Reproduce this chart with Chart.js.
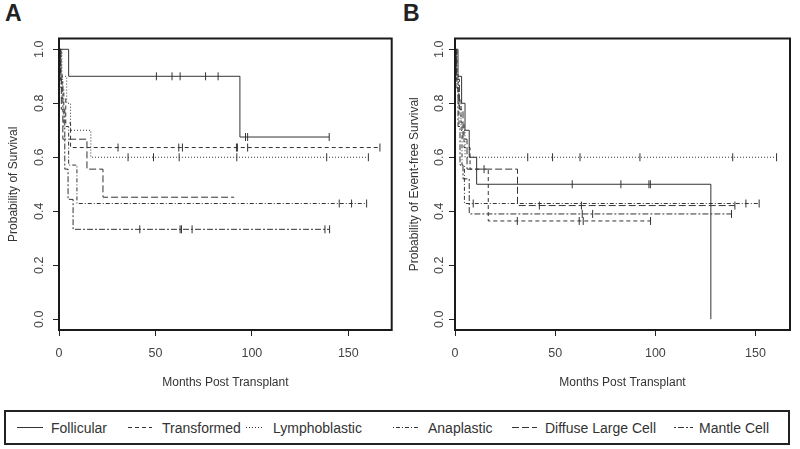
<!DOCTYPE html>
<html><head><meta charset="utf-8">
<script src="https://cdn.jsdelivr.net/npm/chart.js@4.4.1/dist/chart.umd.min.js"></script>
<style>
  body { margin:0; background:#fff; width:800px; height:449px; overflow:hidden; position:relative; font-family:"Liberation Sans", Arial, sans-serif; }
  .panel { position:absolute; top:0; }
  .tag { position:absolute; top:0; font:bold 23px "Liberation Sans Narrow", "Liberation Sans", Arial, sans-serif; color:#222; line-height:26px; }
  #legend { position:absolute; left:4px; top:410px; width:786px; height:35px; border:2px solid #222; box-sizing:border-box; }
  .item { position:absolute; top:0; height:31px; display:flex; align-items:center; font-size:14px; color:#333; white-space:nowrap; }
  .swatch { position:absolute; top:15px; height:1px; }
</style>
</head><body>
<div class="tag" style="left:5px">A</div>
<div class="tag" style="left:403px">B</div>
<canvas id="chartA" class="panel" style="left:0" width="400" height="400"></canvas>
<canvas id="chartB" class="panel" style="left:400px" width="400" height="400"></canvas>
<div id="legend"></div>
<script>
// Kaplan-Meier, duas figuras (A: sobrevida global, B: sobrevida livre de evento)
const X_TICKS = [0, 50, 100, 150];
const Y_TICKS = [0, 0.2, 0.4, 0.6, 0.8, 1.0];
const SERIES = ['Follicular', 'Transformed', 'Lymphoblastic', 'Anaplastic', 'Diffuse Large Cell', 'Mantle Cell'];
const DASHES = [[], [4, 3], [1, 2], [1, 2, 4, 2], [7, 3], [2, 2, 6, 2]];
const INK = '#333';

// painel A — [mês, probabilidade]; o último ponto marca o fim da curva
const A_FOL = [[0, 1], [5, 0.9], [93.8, 0.675], [140.1, 0.675]];
const A_TRA = [[0, 1], [0.8, 0.909], [1.6, 0.818], [3.5, 0.727], [6, 0.636], [166.4, 0.636]];
const A_LYM = [[0, 1], [1.5, 0.9], [4, 0.8], [6, 0.7], [16.5, 0.6], [160.4, 0.6]];
const A_ANA = [[0, 1], [1, 0.857], [2.5, 0.714], [5, 0.571], [9.3, 0.4286], [159.5, 0.4286]];
const A_DLC = [[0, 1], [0.6, 0.889], [1.2, 0.778], [2, 0.667], [14.5, 0.556], [22.8, 0.452], [90.8, 0.452]];
const A_MAN = [[0, 1], [1, 0.889], [2, 0.778], [3, 0.556], [4.7, 0.444], [7.3, 0.333], [140.3, 0.333]];
// censuras (meses)
const A_FOL_C = [50.5, 58.6, 62.8, 76, 82.5, 96.7, 97.8, 140.1];
const A_TRA_C = [30.6, 62.1, 64, 92, 92.5, 97.8, 166.4];
const A_LYM_C = [35.8, 49, 62.3, 92.2, 138.8, 160.4];
const A_ANA_C = [145.3, 151.7, 159.5];
const A_DLC_C = [];
const A_MAN_C = [41.9, 62.8, 63.5, 69, 137.9, 140.3];

// painel B
const B_FOL = [[0, 1], [1.5, 0.9], [3.3, 0.8], [5, 0.7], [7.1, 0.6], [10.8, 0.5], [127.7, 0]];
const B_TRA = [[0, 1], [0.5, 0.909], [1.5, 0.818], [3, 0.727], [4.5, 0.636], [7.5, 0.556], [16.6, 0.364], [97.6, 0.364]];
const B_LYM = [[0, 1], [0.8, 0.9], [1.8, 0.8], [3, 0.7], [5, 0.6], [160.5, 0.6]];
const B_ANA = [[0, 1], [1, 0.857], [2, 0.714], [3.5, 0.571], [4.7, 0.4286], [151.8, 0.4286]];
const B_DLC = [[0, 1], [0.7, 0.889], [2.2, 0.778], [4, 0.667], [6, 0.556], [31.2, 0.421], [139.7, 0.421]];
const B_MAN = [[0, 1], [0.5, 0.857], [1.5, 0.714], [2.5, 0.571], [4, 0.52], [7.1, 0.39], [138, 0.39]];
const B_FOL_C = [58.5, 82.8, 96.8, 97.5];
const B_TRA_C = [14.5, 31.1, 62, 64, 97.6];
const B_LYM_C = [36.3, 48.7, 62.4, 92.3, 138.6, 160.5];
const B_ANA_C = [9.1, 145.2, 151.8];
const B_DLC_C = [42.1, 63.1, 139.7];
const B_MAN_C = [63.5, 68.7, 138];

Chart.defaults.font.family = '"Liberation Sans", Arial, sans-serif';
Chart.defaults.color = '#444';

function survAt(steps, t) {
  let s = steps[0][1];
  for (const [x, y] of steps) { if (x <= t) s = y; }
  return s;
}

function datasets(curves, cens) {
  const out = [];
  curves.forEach((c, i) => {
    out.push({ data: c.map(([x, y]) => ({ x, y })), stepped: true, borderColor: INK, borderWidth: 1,
      borderDash: DASHES[i], pointRadius: 0, fill: false });
    out.push({ data: cens[i].map(t => ({ x: t, y: survAt(c, t) })), showLine: false, pointStyle: 'line',
      rotation: 90, pointRadius: 4, borderColor: INK, borderWidth: 1 });
  });
  return out;
}

// caixa em volta + rótulos do eixo y girados (estilo R)
const rBox = {
  id: 'rBox',
  afterDraw(chart, args, opts) {
    const { ctx, chartArea: a, scales: { y } } = chart;
    ctx.save();
    ctx.strokeStyle = '#1a1a1a'; ctx.lineWidth = 2;
    ctx.strokeRect(a.left, a.top, a.right - a.left, a.bottom - a.top);
    ctx.font = '12.5px "Liberation Sans", Arial, sans-serif';
    ctx.fillStyle = '#444'; ctx.textAlign = 'center'; ctx.textBaseline = 'middle';
    for (const t of y.ticks) {
      ctx.save();
      ctx.translate(a.left - opts.gap, y.getPixelForValue(t.value));
      ctx.rotate(-Math.PI / 2);
      ctx.fillText(t.value.toFixed(1), 0, 0);
      ctx.restore();
    }
    ctx.restore();
  }
};

function desenha(id, curves, cens, xMax, yWidth, padRight, yTitle, titlePad, gap) {
  return new Chart(document.getElementById(id), {
    type: 'line',
    data: { datasets: datasets(curves, cens) },
    plugins: [rBox],
    options: {
      responsive: false, animation: false, events: [],
      layout: { padding: { left: 0, right: padRight, top: 38.5, bottom: 0 } },
      plugins: { legend: { display: false }, tooltip: { enabled: false }, rBox: { gap } },
      scales: {
        x: {
          type: 'linear', min: 0, max: xMax,
          afterBuildTicks: s => { s.ticks = X_TICKS.map(v => ({ value: v })); },
          afterFit: s => { s.height = 70; },
          grid: { drawOnChartArea: false, drawTicks: true, tickLength: 6, tickColor: '#222' },
          border: { display: false },
          ticks: { font: { size: 12.5 }, padding: 10, maxRotation: 0 },
          title: { display: true, text: 'Months Post Transplant', font: { size: 12 }, padding: { bottom: 10 }, color: '#333' }
        },
        y: {
          type: 'linear', min: -0.04, max: 1.04,
          afterBuildTicks: s => { s.ticks = Y_TICKS.map(v => ({ value: v })); },
          afterFit: s => { s.width = yWidth; },
          grid: { drawOnChartArea: false, drawTicks: true, tickLength: 6, tickColor: '#222' },
          border: { display: false },
          ticks: { display: false },
          title: { display: true, text: yTitle, font: { size: 12 }, padding: { top: titlePad }, color: '#333' }
        }
      }
    }
  });
}

desenha('chartA', [A_FOL, A_TRA, A_LYM, A_ANA, A_DLC, A_MAN],
  [A_FOL_C, A_TRA_C, A_LYM_C, A_ANA_C, A_DLC_C, A_MAN_C], 172.5, 59, 8.3, 'Probability of Survival', 6, 19);
desenha('chartB', [B_FOL, B_TRA, B_LYM, B_ANA, B_DLC, B_MAN],
  [B_FOL_C, B_TRA_C, B_LYM_C, B_ANA_C, B_DLC_C, B_MAN_C], 167.2, 55, 10, 'Probability of Event-free Survival', 7, 15);

// legenda comum, embaixo
const LEG_LINE = [[11, 26], [122, 24], [240, 17], [387, 27], [506, 25], [668, 19]];
const LEG_TEXT = [45, 156, 267, 422, 539, 693];
const leg = document.getElementById('legend');
SERIES.forEach((nome, i) => {
  const [x, w] = LEG_LINE[i];
  const sw = document.createElementNS('http://www.w3.org/2000/svg', 'svg');
  sw.setAttribute('width', w); sw.setAttribute('height', 3);
  sw.style.cssText = `position:absolute;left:${x}px;top:14px`;
  sw.innerHTML = `<line x1="0" y1="1.5" x2="${w}" y2="1.5" stroke="${INK}" stroke-width="1" stroke-dasharray="${DASHES[i].join(' ') || 'none'}"/>`;
  leg.appendChild(sw);
  const t = document.createElement('div');
  t.className = 'item'; t.style.left = LEG_TEXT[i] + 'px'; t.textContent = nome;
  leg.appendChild(t);
});
</script>
</body></html>
